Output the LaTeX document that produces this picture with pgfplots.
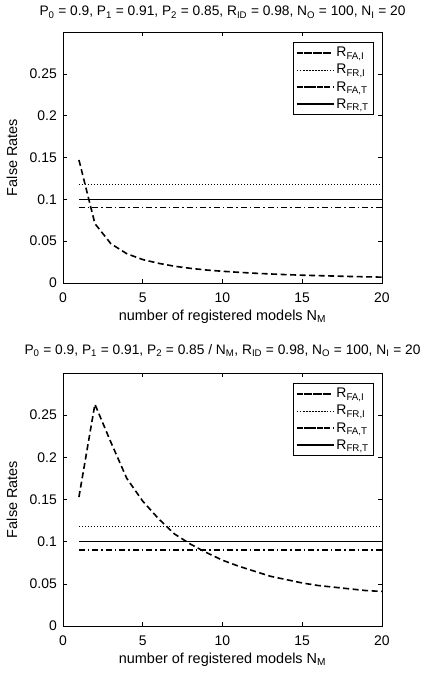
\documentclass[border=0pt]{standalone}
\usepackage{pgfplots}
\pgfplotsset{compat=1.18}
\usepackage{fontspec}
\setmainfont{Liberation Sans}

\pgfplotsset{
  every axis title shift=0pt,
  myaxis/.style={
    scale only axis,
    width=319bp, height=251bp,
    xmin=0, xmax=20, ymin=0, ymax=0.3,
    xtick={0,5,10,15,20},
    ytick={0,0.05,0.1,0.15,0.2,0.25},
    tick align=inside,
    major tick length=4bp,
    axis line style={line width=0.6bp},
    every tick/.style={line width=0.6bp, black},
    /pgf/number format/assume math mode=true,
    /pgf/number format/fixed,
    /pgf/number format/precision=3,
    ticklabel style={font=\fontsize{14}{16}\selectfont},
    xticklabel style={anchor=base, yshift=-19bp},
    yticklabel style={anchor=east, inner sep=0pt, xshift=-6bp},
    label style={font=\fontsize{14.5}{17}\selectfont},
    xlabel={number of registered models N\textsubscript{M}},
    xlabel style={at={(axis description cs:0.5,0)}, anchor=base, yshift=-37bp},
    ylabel={False Rates},
    ylabel style={at={(axis description cs:-0.16,0.5)}, anchor=center},
    title style={font=\fontsize{13.8}{16}\selectfont, at={(axis description cs:0.5,1)}, anchor=base},
    legend style={at={(axis description cs:1,1)}, anchor=north east,
      xshift=-8bp, yshift=-10bp,
      draw=black, line width=0.6bp, inner xsep=3bp, inner ysep=3bp,
      font=\fontsize{14}{17}\selectfont, row sep=2bp,
      cells={anchor=west}},
    legend image code/.code={\path (-7bp,0bp) -- (30bp,0bp); \draw[#1] (0bp,0bp) -- (23bp,0bp);},
  },
  faI/.style={black, line width=1.6bp, dash pattern=on 6bp off 3.5bp},
  frI/.style={black, line width=0.8bp, dash pattern=on 1bp off 2bp},
  faT/.style={black, line width=1.3bp, dash pattern=on 6bp off 3bp on 1.5bp off 3bp},
  frT/.style={black, line width=1.3bp},
}

\begin{document}
\begin{tikzpicture}
\path[use as bounding box] (-63bp,-392bp) rectangle (369bp,283bp);

\begin{axis}[myaxis, at={(0,0)}, anchor=south west,
  title={P\textsubscript{0} = 0.9, P\textsubscript{1} = 0.91, P\textsubscript{2} = 0.85, R\textsubscript{ID} = 0.98, N\textsubscript{O} = 100, N\textsubscript{I} = 20},
  title style={yshift=16bp}]
\addplot[faI] coordinates {
(1,0.147) (2,0.071) (3,0.047) (4,0.035) (5,0.028) (6,0.0235) (7,0.020) (8,0.0175)
(9,0.0155) (10,0.014) (11,0.0128) (12,0.0117) (13,0.0108) (14,0.010) (15,0.0093)
(16,0.0088) (17,0.0083) (18,0.0078) (19,0.0074) (20,0.007)};
\addlegendentry{R\textsubscript{FA,I}}
\addplot[frI] coordinates {(1,0.118) (20,0.118)};
\addlegendentry{R\textsubscript{FR,I}}
\addplot[faT] coordinates {(1,0.090) (20,0.090)};
\addlegendentry{R\textsubscript{FA,T}}
\addplot[frT] coordinates {(1,0.100) (20,0.100)};
\addlegendentry{R\textsubscript{FR,T}}
\end{axis}

\begin{axis}[myaxis, at={(0,-343bp)}, anchor=south west, height=253bp,
  title={P\textsubscript{0} = 0.9, P\textsubscript{1} = 0.91, P\textsubscript{2} = 0.85 / N\textsubscript{M}, R\textsubscript{ID} = 0.98, N\textsubscript{O} = 100, N\textsubscript{I} = 20},
  title style={yshift=19bp}]
\addplot[faI] coordinates {
(1,0.153) (2,0.263) (3,0.218) (4,0.175) (5,0.148) (6,0.127) (7,0.109) (8,0.097)
(9,0.087) (10,0.078) (11,0.071) (12,0.065) (13,0.059) (14,0.055) (15,0.051)
(16,0.048) (17,0.046) (18,0.044) (19,0.042) (20,0.041)};
\addlegendentry{R\textsubscript{FA,I}}
\addplot[frI] coordinates {(1,0.118) (20,0.118)};
\addlegendentry{R\textsubscript{FR,I}}
\addplot[faT] coordinates {(1,0.090) (20,0.090)};
\addlegendentry{R\textsubscript{FA,T}}
\addplot[frT] coordinates {(1,0.100) (20,0.100)};
\addlegendentry{R\textsubscript{FR,T}}
\end{axis}
\end{tikzpicture}
\end{document}
